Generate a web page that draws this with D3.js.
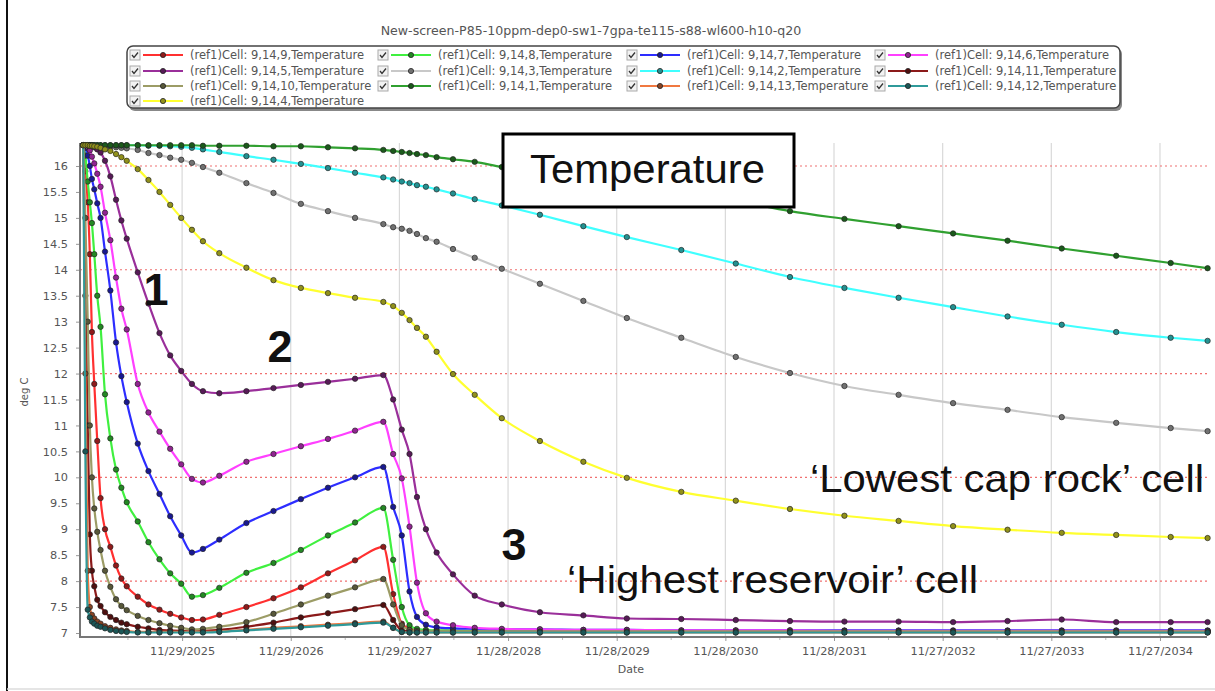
<!DOCTYPE html>
<html><head><meta charset="utf-8">
<script src="https://cdn.jsdelivr.net/npm/d3@7"></script>
<style>body{margin:0;background:#fff;} svg{display:block;}</style>
</head><body>
<svg id="chart" width="1215" height="691"></svg>
<script>
// ---------------- DATA ----------------
const chartTitle = "New-screen-P85-10ppm-dep0-sw1-7gpa-te115-s88-wl600-h10-q20";
const startDate = "01/01/2025";
const axisStartDate = "12/21/2024";
const axisEndDate = "05/04/2035";
// time of each output step, years since startDate
const yearsSinceStart = [0,0.02,0.04,0.06,0.08,0.1,0.13,0.16,0.2,0.25,0.3,0.35,0.4,0.5,0.6,0.7,0.8,0.9,1.0,1.1,1.25,1.5,1.75,2.0,2.25,2.5,2.76,2.85,2.93,3.0,3.07,3.15,3.25,3.4,3.6,3.85,4.2,4.6,5.0,5.5,6.0,6.5,7.0,7.5,8.0,8.5,9.0,9.5,10.0,10.34];
const xTickLabels = ["11/29/2025","11/29/2026","11/29/2027","11/28/2028","11/28/2029","11/28/2030","11/28/2031","11/27/2032","11/27/2033","11/27/2034"];
const yTickLabels = [7,7.5,8,8.5,9,9.5,10,10.5,11,11.5,12,12.5,13,13.5,14,14.5,15,15.5,16];
const yGridValues = [8,10,12,14,16];

const cell1 = [16.40,16.40,16.40,16.40,16.40,16.40,16.40,16.40,16.40,16.40,16.40,16.40,16.40,16.40,16.40,16.40,16.40,16.40,16.40,16.39,16.39,16.39,16.38,16.38,16.36,16.34,16.31,16.29,16.27,16.25,16.23,16.21,16.17,16.13,16.08,15.98,15.88,15.77,15.63,15.48,15.33,15.13,14.98,14.84,14.70,14.56,14.41,14.27,14.13,14.03];
const cell2 = [16.40,16.40,16.40,16.40,16.40,16.40,16.40,16.40,16.40,16.40,16.40,16.40,16.40,16.40,16.39,16.39,16.38,16.37,16.35,16.32,16.27,16.19,16.12,16.04,15.96,15.87,15.78,15.74,15.70,15.67,15.63,15.60,15.55,15.47,15.36,15.24,15.06,14.84,14.63,14.38,14.12,13.86,13.65,13.46,13.28,13.10,12.94,12.80,12.69,12.63];
const cell3 = [16.40,16.40,16.40,16.40,16.40,16.39,16.39,16.39,16.38,16.37,16.36,16.35,16.34,16.31,16.25,16.21,16.16,16.12,16.06,15.98,15.87,15.67,15.48,15.27,15.13,15.00,14.88,14.82,14.79,14.75,14.69,14.61,14.54,14.40,14.23,14.02,13.73,13.40,13.07,12.69,12.32,12.01,11.76,11.59,11.43,11.30,11.16,11.05,10.95,10.89];
const cell4 = [16.40,16.40,16.40,16.39,16.39,16.38,16.37,16.35,16.32,16.29,16.23,16.17,16.10,15.94,15.73,15.50,15.25,15.00,14.77,14.55,14.32,14.04,13.80,13.65,13.55,13.46,13.38,13.30,13.17,13.03,12.88,12.71,12.42,11.99,11.59,11.14,10.70,10.30,9.99,9.72,9.55,9.39,9.26,9.16,9.06,8.99,8.93,8.89,8.85,8.83];
const cell5 = [16.40,16.40,16.40,16.39,16.38,16.36,16.32,16.26,16.10,15.80,15.35,14.95,14.60,13.95,13.35,12.78,12.35,12.05,11.80,11.66,11.62,11.66,11.72,11.78,11.84,11.90,11.97,11.50,10.92,10.45,9.62,9.00,8.55,8.13,7.72,7.55,7.40,7.34,7.28,7.27,7.25,7.23,7.22,7.22,7.21,7.23,7.26,7.21,7.21,7.21];
const cell6 = [16.40,16.39,16.36,16.30,16.18,16.05,15.85,15.60,15.10,14.57,13.85,13.25,12.85,11.80,11.25,10.88,10.55,10.25,9.97,9.90,10.03,10.30,10.45,10.60,10.74,10.90,11.07,10.45,9.98,9.05,7.97,7.38,7.22,7.15,7.10,7.08,7.07,7.06,7.06,7.05,7.05,7.05,7.04,7.04,7.04,7.04,7.04,7.04,7.04,7.04];
const cell7 = [16.40,16.35,16.20,16.00,15.75,15.55,15.28,15.00,14.35,13.60,12.60,11.95,11.45,10.65,10.12,9.68,9.25,8.88,8.55,8.62,8.80,9.12,9.35,9.58,9.80,10.00,10.20,9.43,8.88,7.80,7.31,7.16,7.11,7.09,7.08,7.07,7.07,7.06,7.06,7.05,7.05,7.05,7.05,7.05,7.05,7.05,7.05,7.05,7.05,7.05];
const cell8 = [16.40,16.20,15.70,15.30,14.90,14.30,13.50,12.90,11.60,10.75,10.15,9.80,9.52,9.15,8.75,8.42,8.15,7.95,7.70,7.73,7.87,8.16,8.35,8.60,8.88,9.13,9.41,8.41,7.50,7.15,7.08,7.06,7.05,7.05,7.04,7.04,7.04,7.04,7.04,7.04,7.04,7.04,7.04,7.04,7.04,7.04,7.04,7.04,7.04,7.04];
const cell9 = [16.40,15.90,15.30,14.30,12.80,11.80,10.70,9.60,9.00,8.66,8.30,8.05,7.90,7.70,7.55,7.45,7.37,7.30,7.25,7.26,7.35,7.50,7.67,7.88,8.15,8.40,8.66,7.75,7.18,7.08,7.05,7.04,7.04,7.04,7.03,7.03,7.03,7.03,7.03,7.03,7.03,7.03,7.03,7.03,7.03,7.03,7.03,7.03,7.03,7.03];
const cell10 = [16.40,15.00,13.00,11.00,10.00,9.40,8.95,8.60,8.20,7.89,7.65,7.52,7.44,7.33,7.25,7.19,7.14,7.10,7.07,7.08,7.12,7.21,7.37,7.55,7.72,7.88,8.04,7.55,7.15,7.06,7.04,7.03,7.03,7.03,7.03,7.03,7.03,7.03,7.03,7.03,7.03,7.03,7.03,7.03,7.03,7.03,7.03,7.03,7.03,7.03];
const cell11 = [16.40,13.50,11.00,8.90,8.20,7.90,7.64,7.52,7.40,7.31,7.25,7.20,7.17,7.12,7.09,7.06,7.05,7.04,7.03,7.04,7.06,7.12,7.20,7.30,7.38,7.46,7.54,7.25,7.05,7.03,7.02,7.02,7.02,7.02,7.02,7.02,7.02,7.02,7.02,7.02,7.02,7.02,7.02,7.02,7.02,7.02,7.02,7.02,7.02,7.02];
const cell12 = [16.40,10.50,7.45,7.30,7.22,7.18,7.14,7.12,7.09,7.06,7.04,7.03,7.02,7.01,7.01,7.01,7.01,7.01,7.01,7.01,7.02,7.05,7.08,7.11,7.14,7.17,7.20,7.10,7.02,7.01,7.01,7.01,7.01,7.01,7.01,7.01,7.01,7.01,7.01,7.01,7.01,7.01,7.01,7.01,7.01,7.01,7.01,7.01,7.01,7.01];
const cell13 = [16.40,12.00,8.20,7.50,7.35,7.28,7.22,7.18,7.13,7.10,7.07,7.05,7.04,7.02,7.02,7.02,7.02,7.02,7.02,7.02,7.03,7.06,7.10,7.13,7.16,7.19,7.22,7.10,7.02,7.01,7.01,7.01,7.01,7.01,7.01,7.01,7.01,7.01,7.01,7.01,7.01,7.01,7.01,7.01,7.01,7.01,7.01,7.01,7.01,7.01];

// legend / drawing order
const seriesCells = ["9,14,9","9,14,8","9,14,7","9,14,6","9,14,5","9,14,3","9,14,2","9,14,11","9,14,10","9,14,1","9,14,13","9,14,12","9,14,4"];
const seriesValues = [cell9,cell8,cell7,cell6,cell5,cell3,cell2,cell11,cell10,cell1,cell13,cell12,cell4];

// ---------------- STYLE ----------------
const seriesColors = ["#ff3030","#40f040","#2d2dff","#ff40ff","#9a2f9a","#c8c8c8","#40ffff","#8b1a1a","#9c9c66","#30a030","#f07840","#2f9a9a","#ffff30"];
const fontUI = "'DejaVu Sans', sans-serif";
const fontAnn = "'Liberation Sans', Arial, sans-serif";

const svg = d3.select("#chart");
const parse = d3.timeParse("%m/%d/%Y");
const L = 80, R = 1207, T = 143, B = 637;

const x = d3.scaleTime().domain([parse(axisStartDate), parse(axisEndDate)]).range([L, R]);
const y = d3.scaleLinear().domain([6.923, 16.443]).range([B, T]);

const t0 = parse(startDate);
const dates = yearsSinceStart.map(t => d3.timeDay.offset(t0, Math.round(t * 365.25)));
const tickDates = xTickLabels.map(parse);

svg.append("rect").attr("width",1215).attr("height",691).attr("fill","#fff");
// outer frame
svg.append("line").attr("x1",7).attr("x2",7).attr("y1",0).attr("y2",691).attr("stroke","#111").attr("stroke-width",2);
svg.append("line").attr("x1",7).attr("x2",1215).attr("y1",689).attr("y2",689).attr("stroke","#ddd").attr("stroke-width",1.5);

// title
svg.append("text").attr("x",591).attr("y",35).attr("text-anchor","middle")
  .attr("font-family",fontUI).attr("font-size",12.6).attr("fill","#555").text(chartTitle);

// grid
svg.append("g").selectAll("line").data(tickDates).join("line")
  .attr("x1",d=>x(d)).attr("x2",d=>x(d)).attr("y1",T).attr("y2",B)
  .attr("stroke","#d9d9d9").attr("stroke-width",1.2);
svg.append("g").selectAll("line").data(yGridValues).join("line")
  .attr("x1",L).attr("x2",R).attr("y1",d=>y(d)).attr("y2",d=>y(d))
  .attr("stroke","#f07070").attr("stroke-width",1.2).attr("stroke-dasharray","2,3");

// axes
const yAxis = svg.append("g").attr("transform",`translate(${L},0)`)
  .call(d3.axisLeft(y).tickValues(yTickLabels).tickSize(4).tickFormat(d3.format("~g")));
const xAxis = svg.append("g").attr("transform",`translate(0,${B})`)
  .call(d3.axisBottom(x).tickValues(tickDates).tickSize(4).tickFormat(d3.timeFormat("%m/%d/%Y")));
[yAxis,xAxis].forEach(g=>{
  g.select(".domain").remove();
  g.selectAll(".tick line").attr("stroke","#999");
  g.selectAll(".tick text").attr("font-family",fontUI).attr("font-size",11.3).attr("fill","#555");
});
yAxis.selectAll(".tick text").attr("x",-12);
xAxis.selectAll(".tick text").attr("y",10);
// minor x ticks (half way)
svg.append("g").selectAll("line").data(tickDates).join("line")
  .attr("x1",d=>x(d3.timeDay.offset(d,-182))).attr("x2",d=>x(d3.timeDay.offset(d,-182)))
  .attr("y1",B).attr("y2",B+3).attr("stroke","#bbb");
svg.append("line").attr("x1",L).attr("x2",L).attr("y1",T).attr("y2",B+1).attr("stroke","#777").attr("stroke-width",2);
svg.append("line").attr("x1",L-1).attr("x2",R).attr("y1",B).attr("y2",B).attr("stroke","#777").attr("stroke-width",2);

svg.append("text").attr("x",631).attr("y",673).attr("text-anchor","middle")
  .attr("font-family",fontUI).attr("font-size",11).attr("fill","#555").text("Date");
svg.append("text").attr("transform","translate(28,392) rotate(-90)").attr("text-anchor","middle")
  .attr("font-family",fontUI).attr("font-size",10).attr("fill","#555").text("deg C");

// series
const line = d3.line().x(d=>x(d.date)).y(d=>y(d.v)).curve(d3.curveMonotoneX);
const plot = svg.append("g");
seriesValues.forEach((vals,i)=>{
  const pts = vals.map((v,j)=>({date:dates[j], v}));
  const c = seriesColors[i];
  plot.append("path").datum(pts).attr("d",line).attr("fill","none")
    .attr("stroke",c).attr("stroke-width",2.2);
  plot.append("g").selectAll("circle").data(pts).join("circle")
    .attr("cx",d=>x(d.date)).attr("cy",d=>y(d.v)).attr("r",2.7)
    .attr("fill",d3.color(c).darker(1.6)).attr("stroke","#222").attr("stroke-opacity",0.75).attr("stroke-width",0.9);
});

// legend
const legX = [135,383,632,880], legY = [55,71,86,101];
svg.append("rect").attr("x",129).attr("y",48).attr("width",993).attr("height",63).attr("rx",6).attr("fill","#888");
svg.append("rect").attr("x",127).attr("y",46).attr("width",993).attr("height",62).attr("rx",6)
  .attr("fill","#fff").attr("stroke","#444").attr("stroke-width",1.5);
seriesCells.forEach((cell,i)=>{
  const cx = legX[i%4], cy = legY[Math.floor(i/4)];
  const g = svg.append("g");
  g.append("rect").attr("x",cx-5).attr("y",cy-5).attr("width",10).attr("height",10)
    .attr("fill","#f2f2f2").attr("stroke","#aaa");
  g.append("path").attr("d",`M${cx-3},${cy} L${cx-1},${cy+2.5} L${cx+3},${cy-2.5}`)
    .attr("fill","none").attr("stroke","#333").attr("stroke-width",1.3);
  g.append("line").attr("x1",cx+8).attr("x2",cx+48).attr("y1",cy).attr("y2",cy)
    .attr("stroke",seriesColors[i]).attr("stroke-width",2.2);
  g.append("circle").attr("cx",cx+28).attr("cy",cy).attr("r",2.6)
    .attr("fill",d3.color(seriesColors[i]).darker(1.6)).attr("stroke","#222").attr("stroke-width",0.8);
  g.append("text").attr("x",cx+55).attr("y",cy).attr("dy","0.36em")
    .attr("font-family",fontUI).attr("font-size",11.5).attr("fill","#555")
    .text(`(ref1)Cell: ${cell},Temperature`);
});

// annotations
svg.append("rect").attr("x",503).attr("y",134).attr("width",291).attr("height",73)
  .attr("fill","#fff").attr("stroke","#000").attr("stroke-width",3);
svg.append("text").attr("x",530).attr("y",183).attr("textLength",235).attr("lengthAdjust","spacingAndGlyphs")
  .attr("font-family",fontAnn).attr("font-size",41).attr("fill","#111").text("Temperature");
[["1",156,305],["2",280,362],["3",514,560]].forEach(([s,ax,ay])=>{
  svg.append("text").attr("x",ax).attr("y",ay).attr("text-anchor","middle")
    .attr("font-family",fontAnn).attr("font-weight","bold").attr("font-size",45).attr("fill","#111").text(s);
});
svg.append("text").attr("x",810).attr("y",492).attr("textLength",394).attr("lengthAdjust","spacingAndGlyphs")
  .attr("font-family",fontAnn).attr("font-size",39).attr("fill","#111").text("\u2018Lowest cap rock\u2019 cell");
svg.append("text").attr("x",567).attr("y",593).attr("textLength",411).attr("lengthAdjust","spacingAndGlyphs")
  .attr("font-family",fontAnn).attr("font-size",39).attr("fill","#111").text("\u2018Highest reservoir\u2019 cell");
</script>
</body></html>
